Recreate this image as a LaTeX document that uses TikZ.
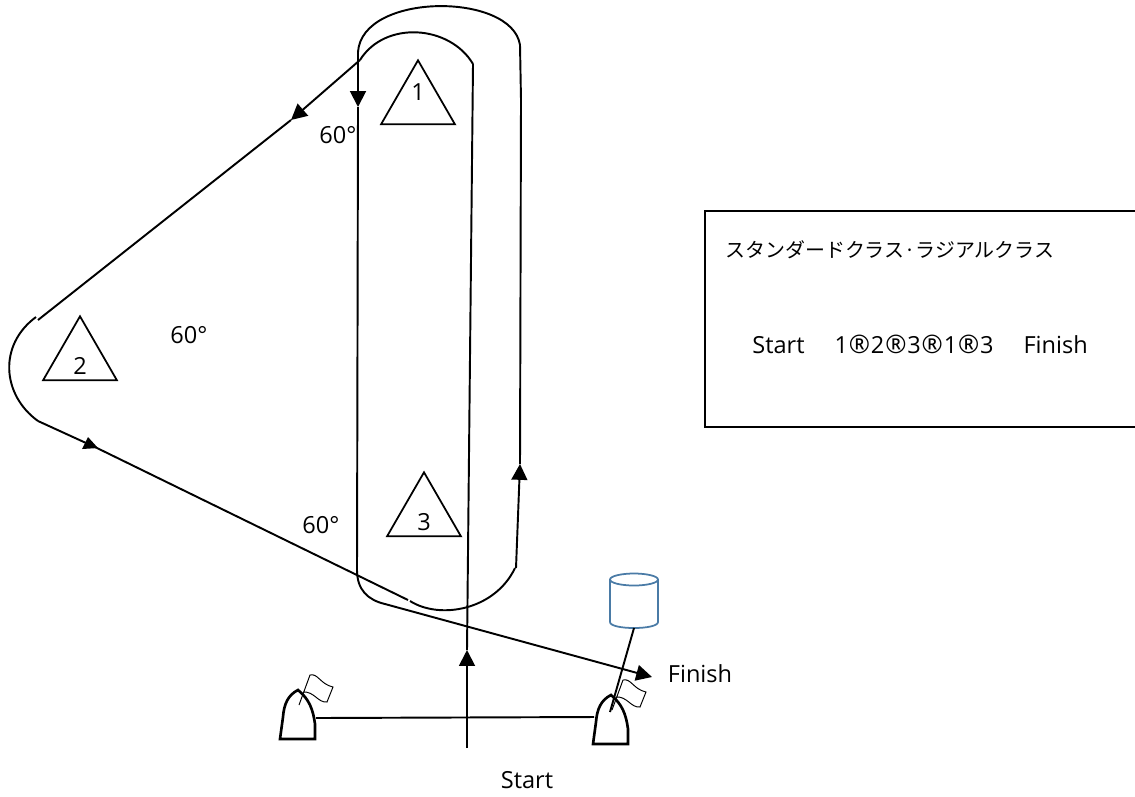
\documentclass[tikz,border=0pt]{standalone}
\usepackage{fontspec}
\setmainfont{Open Sans}
\newfontfamily\cjkfont{Noto Sans CJK JP}
\usepackage{tikz}
\usetikzlibrary{arrows.meta,shapes.geometric}
\definecolor{drumblue}{HTML}{4A7BA6}
\newcommand{\regsign}{\hspace{0.5pt}{\fontsize{14.5}{15}\selectfont ®}\hspace{0.5pt}}
\tikzset{course/.style={line width=1.1pt,black},
    tip/.style={-{Triangle[length=9pt,width=9pt]}},
    mark node/.style={regular polygon,regular polygon sides=3,draw,line width=1pt,minimum size=1.708cm,inner sep=0pt},
    label node/.style={font=\fontsize{13.4}{15}\selectfont,inner sep=0pt},
    boat node/.pic={
        \draw[line width=1.5pt] (0,0) -- (35,0) -- (35,-15) .. controls (33,-30) and (29,-40) .. (18,-49)
            .. controls (8,-44) and (4,-35) .. (3,-22) -- cycle;
        \draw[line width=0.55pt] (19,-34) -- (30,-64) .. controls (38,-66) and (40,-55) .. (53,-52)
            -- (47,-37) .. controls (38,-36) and (34,-48) .. (23,-47);
    }}

\begin{document}
\begin{tikzpicture}[x=0.02cm,y=-0.02cm]
    \useasboundingbox (0,0) rectangle (1135,796);

    % marks
    \foreach \x/\y/\i/\t in {418/103/1/92,80/359/2/366,424/515/3/522}{
        \node[mark node] (m\i) at (\x,\y) {};
        \node[label node] (n\i) at (\x,\t) {\i};
    }

    % boats and line
    \pic at (280,739) {boat node};
    \pic at (593,744) {boat node};
    \coordinate (lineL) at (316,718);
    \coordinate (lineR) at (594,717);
    \draw[course] (lineL) -- (lineR);

    % points on the course
    \foreach \n/\x/\y in {s0/467/748,s1/467/650,s2/473/64,a1/360/60,b1/38/320,b0/291/120,
        c1/36/317,c2/38/421,c0/97/448,t1/88/437,t2/82/449,t3/98/448,d1/408/600,e1/410/601,e2/515/568,
        f1/516/568,f0/520/464,f2/521/100,g1/520/45,g2/358/52,h0/358/107,h1/357/570,i1/385/604,j1/652/677,
        k1/610/712}{
        \coordinate (\n) at (\x,\y);
    }

    \draw[course,tip] (s0) -- (s1);
    \draw[course] (s1) -- (s2);
    \draw[course] (s2) .. controls (450,25) and (385,20) .. (a1);
    \draw[course,tip] (a1) -- (b0);
    \draw[course] (b0) -- (b1);
    \draw[course] (c1) .. controls (-2,345) and (2,395) .. (c2);
    \draw[course] (c2) -- (c0);
    \fill (t1) -- (t2) -- (t3) -- cycle;
    \draw[course] (c0) -- (d1);
    \draw[course] (e1) .. controls (440,620) and (495,610) .. (e2);
    \draw[course,tip] (f1) -- (f0);
    \draw[course] (f0) -- (f2);
    \draw[course] (f2) -- (g1);
    \draw[course] (g1) .. controls (512,-8) and (362,-8) .. (g2);
    \draw[course,tip] (g2) -- (h0);
    \draw[course] (h0) -- (h1);
    \draw[course] (h1) .. controls (357,590) and (368,600) .. (i1);
    \draw[course,tip] (i1) -- (j1);

    % drum
    \draw[drumblue,line width=1pt] (634,579.5) ellipse [x radius=24,y radius=6];
    \draw[drumblue,line width=1pt] (610,579.5) -- (610,622) .. controls (610,630) and (658,630) .. (658,622) -- (658,579.5);
    \coordinate (drumB) at (634,628);
    \draw[course] (drumB) -- (k1);

    % labels
    \node[label node] (start) at (527,780) {Start};
    \node[label node] (finish) at (700,674) {Finish};
    \node[label node,anchor=west] (a60) at (319,135) {60°};
    \node[label node,anchor=west] (b60) at (170,335) {60°};
    \node[label node,anchor=west] (c60) at (302,525) {60°};

    % panel
    \coordinate (p1) at (1135,211);
    \coordinate (p2) at (705,211);
    \coordinate (p3) at (705,427);
    \coordinate (p4) at (1135,427);
    \draw[line width=0.7pt] (p1) -- (p2) -- (p3) -- (p4);
    \node[label node,anchor=west] (title) at (725,250) {\cjkfont\fontsize{11.35}{13}\selectfont スタンダードクラス·ラジアルクラス};
    \node[label node,anchor=west] (route) at (752,344) {Start\hspace{1.27em}1\regsign 2\regsign 3\regsign 1\regsign 3\hspace{1.27em}Finish};
\end{tikzpicture}
\end{document}
